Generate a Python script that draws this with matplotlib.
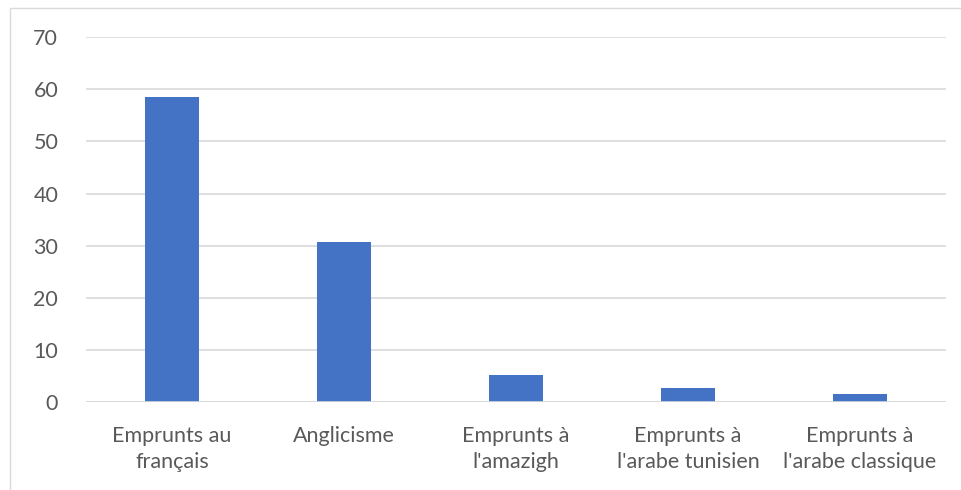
import matplotlib.pyplot as plt
from matplotlib.patches import Rectangle

categories = ["Emprunts au\nfrançais", "Anglicisme", "Emprunts à\nl'amazigh",
              "Emprunts à\nl'arabe tunisien", "Emprunts à\nl'arabe classique"]
values = [58.6, 30.8, 5.2, 2.7, 1.6]
yticks = [0, 10, 20, 30, 40, 50, 60, 70]

plt.rcParams['font.family'] = ['Lato', 'DejaVu Sans']

fig = plt.figure(figsize=(9.62, 4.9), dpi=100)
ax = fig.add_axes([86 / 962, 1 - 402 / 490, (946 - 86) / 962, (402 - 37.3) / 490])

x = list(range(len(categories)))
ax.bar(x, values, width=0.31, color='#4472C4', zorder=3)

ax.set_xlim(-0.5, len(categories) - 0.5)
ax.set_ylim(0, 70)
ax.set_yticks(yticks)
ax.set_xticks(x)
ax.set_xticklabels(categories, fontsize=15.5, color='#595959', linespacing=1.38)
ax.tick_params(axis='y', labelsize=15.5, labelcolor='#595959', length=0, pad=20)
ax.tick_params(axis='x', length=0, pad=17)
ax.grid(axis='y', color='#D9D9D9', linewidth=1.2, zorder=0)
for s in ax.spines.values():
    s.set_visible(False)
ax.axhline(0, color='#D9D9D9', linewidth=1.2, zorder=4)

# outer chart border
fig.patches.append(Rectangle((10 / 962, -0.01), 1.0, 1 - 8 / 490 + 0.01,
                             transform=fig.transFigure, fill=False,
                             edgecolor='#D9D9D9', linewidth=1))

fig.savefig('out.png', dpi=100)
